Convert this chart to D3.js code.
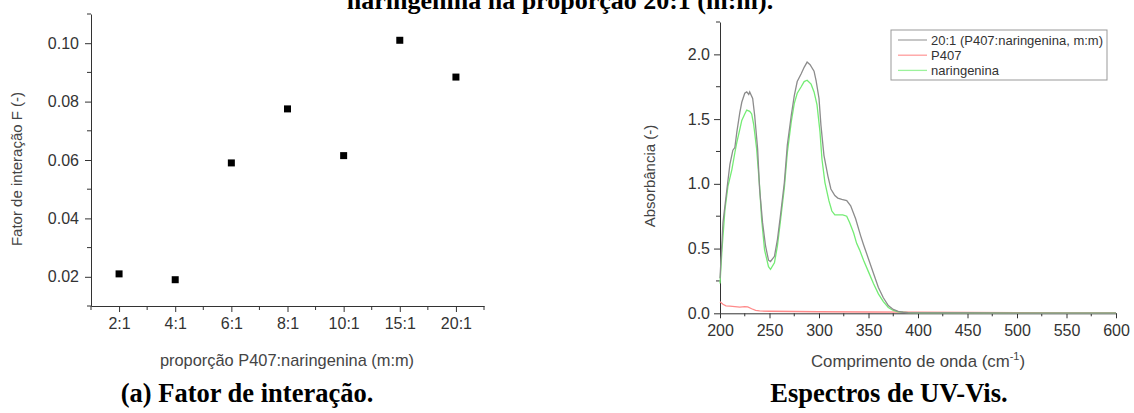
<!DOCTYPE html>
<html>
<head>
<meta charset="utf-8">
<script src="https://cdn.jsdelivr.net/npm/d3@7"></script>
<style>
  body { margin: 0; background: #fff; }
  text { font-family: "Liberation Sans", Arial, sans-serif; }
  .cap { font-family: "Liberation Serif", "Times New Roman", serif; font-weight: bold; fill: #000; }
</style>
</head>
<body>
<div id="canvas"></div>
<script>
"use strict"

/* drawing size */
let svgWidth = 1134;
let svgHeight = 413;

/* (a) interaction factor */
let ratios = ["2:1", "4:1", "6:1", "8:1", "10:1", "15:1", "20:1"];
let factorF = [0.021, 0.019, 0.059, 0.0775, 0.0615, 0.101, 0.0884];
let factorTicks = [0.02, 0.04, 0.06, 0.08, 0.10];

/* UV-Vis spectra: wavelength / absorbance pairs */
let mixWave = [200, 203, 207, 210, 213, 215, 217, 220, 222, 225, 227, 229, 230, 233, 235, 238, 240, 243, 246, 249, 251, 255, 258, 261, 265, 268, 272, 275, 278, 282, 285, 288, 291, 295, 297, 300, 302, 305, 309, 312, 316, 319, 323, 328, 332, 337, 342, 345, 350, 355, 360, 365, 370, 375, 380, 385, 390, 400, 450, 500, 600];
let mixAbs = [0.27, 0.70, 0.96, 1.15, 1.26, 1.28, 1.40, 1.55, 1.63, 1.70, 1.71, 1.69, 1.71, 1.66, 1.53, 1.27, 0.96, 0.70, 0.52, 0.41, 0.40, 0.44, 0.57, 0.75, 1.01, 1.30, 1.53, 1.68, 1.79, 1.85, 1.90, 1.94, 1.92, 1.87, 1.80, 1.66, 1.45, 1.22, 1.06, 0.96, 0.91, 0.89, 0.88, 0.87, 0.83, 0.73, 0.60, 0.53, 0.42, 0.31, 0.20, 0.12, 0.06, 0.03, 0.015, 0.008, 0.005, 0.004, 0.003, 0.002, 0.002];

let p407Wave = [200, 203, 206, 210, 215, 220, 225, 228, 232, 236, 240, 250, 275, 300, 350, 400, 450, 500, 550, 600];
let p407Abs = [0.09, 0.07, 0.058, 0.055, 0.052, 0.048, 0.052, 0.05, 0.035, 0.022, 0.018, 0.016, 0.014, 0.012, 0.01, 0.009, 0.006, 0.005, 0.004, 0.003];

let narWave = [200, 202, 205, 208, 212, 215, 217, 220, 222, 225, 227, 230, 232, 234, 237, 240, 242, 245, 249, 251, 255, 258, 261, 265, 268, 272, 275, 278, 282, 285, 288, 292, 295, 298, 301, 303, 306, 310, 313, 316, 320, 324, 328, 331, 335, 338, 341, 345, 350, 355, 360, 365, 370, 375, 380, 390, 400, 450, 500, 600];
let narAbs = [0.23, 0.49, 0.80, 0.98, 1.11, 1.24, 1.32, 1.42, 1.49, 1.54, 1.57, 1.56, 1.54, 1.46, 1.27, 0.98, 0.73, 0.49, 0.36, 0.34, 0.39, 0.52, 0.71, 0.97, 1.24, 1.48, 1.62, 1.70, 1.75, 1.79, 1.80, 1.77, 1.71, 1.61, 1.40, 1.19, 1.01, 0.87, 0.79, 0.76, 0.76, 0.76, 0.75, 0.70, 0.62, 0.54, 0.49, 0.41, 0.32, 0.23, 0.15, 0.09, 0.045, 0.022, 0.011, 0.005, 0.004, 0.003, 0.002, 0.002];

let seriesNames = ["20:1 (P407:naringenina, m:m)", "P407", "naringenina"];
let seriesColors = ["#8c8c8c", "#ff8a8a", "#74ec74"];
let legendColors = ["#a8a8a8", "#ff9c9c", "#9cf29c"];

let axisColor = "#333";
let tickFont = "16px";

let svg = d3.select("#canvas")
    .append("svg")
    .attr("width", svgWidth)
    .attr("height", svgHeight);

/* caption of the previous figure, cut off at the top like in the source */
svg.append("text")
    .attr("class", "cap")
    .attr("x", 560)
    .attr("y", 9)
    .attr("text-anchor", "middle")
    .style("font-size", "26px")
    .text("naringenina na proporção 20:1 (m:m).");

/* ---------- left chart ---------- */
let xCat = d3.scalePoint()
    .domain(ratios)
    .range([91, 484])
    .padding(0.5);

let yF = d3.scaleLinear()
    .domain([0.01, 0.11])
    .range([306, 14]);

let left = svg.append("g");

let xAxisL = left.append("g")
    .attr("transform", "translate(0," + yF(0.01) + ")")
    .call(d3.axisBottom(xCat).tickSize(6).tickPadding(6).tickSizeOuter(0));

// minor ticks between categories
let half = xCat.step() / 2;
let minorX = [xCat(ratios[0]) - half].concat(ratios.map(r => xCat(r) + half));
left.selectAll(".minx")
    .data(minorX)
    .join("line")
    .attr("x1", d => d).attr("x2", d => d)
    .attr("y1", yF(0.01)).attr("y2", yF(0.01) + 4)
    .attr("stroke", axisColor);

let yAxisL = left.append("g")
    .attr("transform", "translate(" + xCat.range()[0] + ",0)")
    .call(d3.axisLeft(yF).tickValues(factorTicks).tickFormat(d3.format(".2f")).tickSize(6).tickPadding(6).tickSizeOuter(0));

left.selectAll(".miny")
    .data([0.01, 0.03, 0.05, 0.07, 0.09, 0.11])
    .join("line")
    .attr("x1", xCat.range()[0] - 4).attr("x2", xCat.range()[0])
    .attr("y1", d => yF(d)).attr("y2", d => yF(d))
    .attr("stroke", axisColor);

[xAxisL, yAxisL].forEach(function(a) {
    a.selectAll("path, line").attr("stroke", axisColor);
    a.selectAll("text").style("font-size", tickFont).attr("fill", axisColor).style("font-family", "Liberation Sans, Arial, sans-serif");
});

left.selectAll(".pt")
    .data(ratios)
    .join("rect")
    .attr("x", (d) => xCat(d) - 3.5)
    .attr("y", (d, i) => yF(factorF[i]) - 3.5)
    .attr("width", 7)
    .attr("height", 7)
    .attr("fill", "#000");

left.append("text")
    .attr("transform", "translate(17,169) rotate(-90)")
    .attr("text-anchor", "middle")
    .attr("dy", "0.35em")
    .style("font-size", "15px")
    .attr("fill", "#444")
    .text("Fator de interação F (-)");

left.append("text")
    .attr("x", 287)
    .attr("y", 366)
    .attr("text-anchor", "middle")
    .style("font-size", "16.4px")
    .attr("fill", "#444")
    .text("proporção P407:naringenina (m:m)");

left.append("text")
    .attr("class", "cap")
    .attr("x", 247)
    .attr("y", 402)
    .attr("text-anchor", "middle")
    .style("font-size", "26.5px")
    .text("(a) Fator de interação.");

/* ---------- right chart ---------- */
let xW = d3.scaleLinear()
    .domain([200, 600])
    .range([720, 1116]);

let yA = d3.scaleLinear()
    .domain([0, 2.25])
    .range([313.3, 22]);

let right = svg.append("g");

let xAxisR = right.append("g")
    .attr("transform", "translate(0," + yA(0) + ")")
    .call(d3.axisBottom(xW).tickValues(d3.range(200, 601, 50)).tickSize(5).tickPadding(6).tickSizeOuter(0));

right.selectAll(".minxr")
    .data(d3.range(225, 600, 50))
    .join("line")
    .attr("x1", d => xW(d)).attr("x2", d => xW(d))
    .attr("y1", yA(0)).attr("y2", yA(0) + 3)
    .attr("stroke", axisColor);

let yAxisR = right.append("g")
    .attr("transform", "translate(" + xW(200) + ",0)")
    .call(d3.axisLeft(yA).tickValues([0, 0.5, 1.0, 1.5, 2.0]).tickFormat(d3.format(".1f")).tickSize(6).tickPadding(4).tickSizeOuter(0));

right.selectAll(".minyr")
    .data([0.25, 0.75, 1.25, 1.75, 2.25])
    .join("line")
    .attr("x1", xW(200) - 4).attr("x2", xW(200))
    .attr("y1", d => yA(d)).attr("y2", d => yA(d))
    .attr("stroke", axisColor);

[xAxisR, yAxisR].forEach(function(a) {
    a.selectAll("path, line").attr("stroke", axisColor);
    a.selectAll("text").style("font-size", tickFont).attr("fill", axisColor).style("font-family", "Liberation Sans, Arial, sans-serif");
});

let line = d3.line()
    .x(d => xW(d[0]))
    .y(d => yA(d[1]));

let spectra = [
    d3.zip(mixWave, mixAbs),
    d3.zip(p407Wave, p407Abs),
    d3.zip(narWave, narAbs)
];

// red first, then green, grey on top
[1, 2, 0].forEach(function(k) {
    right.append("path")
        .datum(spectra[k])
        .attr("d", line)
        .attr("fill", "none")
        .attr("stroke", seriesColors[k])
        .attr("stroke-width", 1.3);
});

/* legend */
right.append("rect")
    .attr("x", 891)
    .attr("y", 30)
    .attr("width", 216)
    .attr("height", 50)
    .attr("fill", "#fff")
    .attr("stroke", "#999");

seriesNames.forEach(function(name, i) {
    right.append("line")
        .attr("x1", 898).attr("x2", 927)
        .attr("y1", 40 + i * 15.2).attr("y2", 40 + i * 15.2)
        .attr("stroke", legendColors[i])
        .attr("stroke-width", 1.3);
    right.append("text")
        .attr("x", 931)
        .attr("y", 40 + i * 15.2)
        .attr("dy", "0.35em")
        .style("font-size", "13px")
        .attr("fill", "#333")
        .text(name);
});

right.append("text")
    .attr("transform", "translate(650,176) rotate(-90)")
    .attr("text-anchor", "middle")
    .attr("dy", "0.35em")
    .style("font-size", "15px")
    .attr("fill", "#444")
    .text("Absorbância (-)");

let xl = right.append("text")
    .attr("x", 918)
    .attr("y", 367)
    .attr("text-anchor", "middle")
    .style("font-size", "16.8px")
    .attr("fill", "#444");
xl.append("tspan").text("Comprimento de onda (cm");
xl.append("tspan").attr("dy", -7).style("font-size", "11px").text("-1");
xl.append("tspan").attr("dy", 7).text(")");

right.append("text")
    .attr("class", "cap")
    .attr("x", 889)
    .attr("y", 402)
    .attr("text-anchor", "middle")
    .style("font-size", "26.5px")
    .text("Espectros de UV-Vis.");
</script>
</body>
</html>
